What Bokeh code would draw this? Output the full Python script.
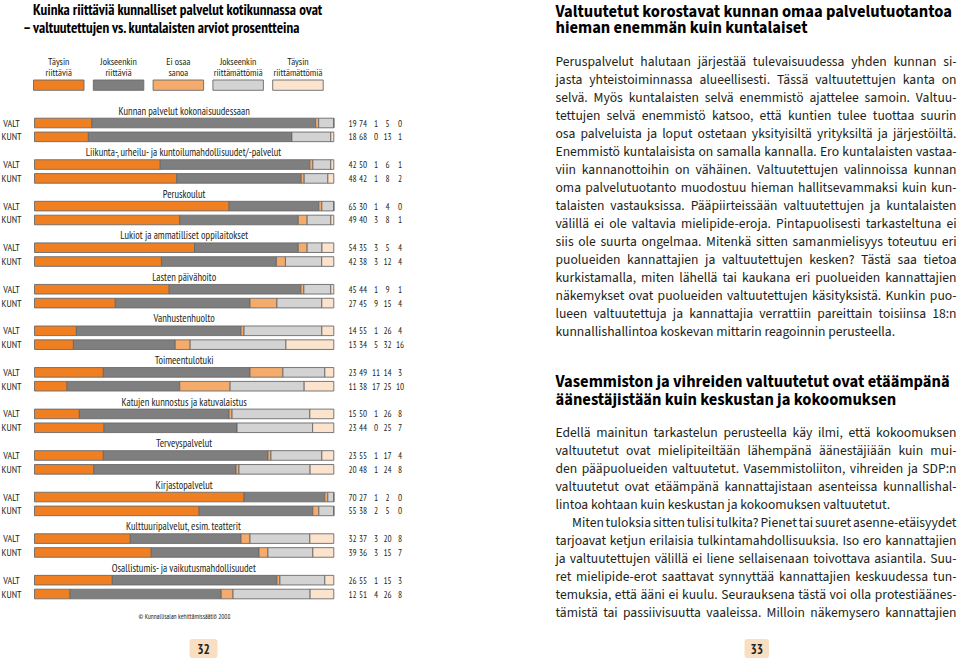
import glob, os, re
from bokeh.plotting import figure
from bokeh.models import Range1d, ColumnDataSource, BoxAnnotation
from bokeh.core.properties import value
from bokeh.embed import file_html
from bokeh.resources import INLINE

# ---------------- data ----------------
categories = [
    "Kunnan palvelut kokonaisuudessaan",
    "Liikunta-, urheilu- ja kuntoilumahdollisuudet/-palvelut",
    "Peruskoulut",
    "Lukiot ja ammatilliset oppilaitokset",
    "Lasten päivähoito",
    "Vanhustenhuolto",
    "Toimeentulotuki",
    "Katujen kunnostus ja katuvalaistus",
    "Terveyspalvelut",
    "Kirjastopalvelut",
    "Kulttuuripalvelut, esim. teatterit",
    "Osallistumis- ja vaikutusmahdollisuudet",
]
answers = [
    ["Täysin", "riittäviä"],
    ["Jokseenkin", "riittäviä"],
    ["Ei osaa", "sanoa"],
    ["Jokseenkin", "riittämättömiä"],
    ["Täysin", "riittämättömiä"],
]
groups = ["VALT", "KUNT"]

valt_full = [19, 42, 65, 54, 45, 14, 23, 15, 23, 70, 32, 26]
valt_some = [74, 50, 30, 35, 44, 55, 49, 50, 55, 27, 37, 55]
valt_dk = [1, 1, 1, 3, 1, 1, 11, 1, 1, 1, 3, 1]
valt_some_insuf = [5, 6, 4, 5, 9, 26, 14, 26, 17, 2, 20, 15]
valt_insuf = [0, 1, 0, 4, 1, 4, 3, 8, 4, 0, 8, 3]

kunt_full = [18, 48, 49, 42, 27, 13, 11, 23, 20, 55, 39, 12]
kunt_some = [68, 42, 40, 38, 45, 34, 38, 44, 48, 38, 36, 51]
kunt_dk = [0, 1, 3, 3, 9, 5, 17, 0, 1, 2, 3, 4]
kunt_some_insuf = [13, 8, 8, 12, 15, 32, 25, 25, 24, 5, 15, 26]
kunt_insuf = [1, 2, 1, 4, 4, 16, 10, 7, 8, 0, 7, 8]

title_left = ["Kuinka riittäviä kunnalliset palvelut kotikunnassa ovat",
              "– valtuutettujen vs. kuntalaisten arviot prosentteina"]
source_note = "© Kunnallisalan kehittämissäätiö 2008"

heading1 = ["Valtuutetut korostavat kunnan omaa palvelutuotantoa",
            "hieman enemmän kuin kuntalaiset"]
para1 = [
    "Peruspalvelut halutaan järjestää tulevaisuudessa yhden kunnan si-",
    "jasta yhteistoiminnassa alueellisesti. Tässä valtuutettujen kanta on",
    "selvä. Myös kuntalaisten selvä enemmistö ajattelee samoin. Valtuu-",
    "tettujen selvä enemmistö katsoo, että kuntien tulee tuottaa suurin",
    "osa palveluista ja loput ostetaan yksityisiltä yrityksiltä ja järjestöiltä.",
    "Enemmistö kuntalaisista on samalla kannalla. Ero kuntalaisten vastaa-",
    "viin kannanottoihin on vähäinen. Valtuutettujen valinnoissa kunnan",
    "oma palvelutuotanto muodostuu hieman hallitsevammaksi kuin kun-",
    "talaisten vastauksissa. Pääpiirteissään valtuutettujen ja kuntalaisten",
    "välillä ei ole valtavia mielipide-eroja. Pintapuolisesti tarkasteltuna ei",
    "siis ole suurta ongelmaa. Mitenkä sitten samanmielisyys toteutuu eri",
    "puolueiden kannattajien ja valtuutettujen kesken? Tästä saa tietoa",
    "kurkistamalla, miten lähellä tai kaukana eri puolueiden kannattajien",
    "näkemykset ovat puolueiden valtuutettujen käsityksistä. Kunkin puo-",
    "lueen valtuutettuja ja kannattajia verrattiin pareittain toisiinsa 18:n",
    "kunnallishallintoa koskevan mittarin reagoinnin perusteella.",
]
heading2 = ["Vasemmiston ja vihreiden valtuutetut ovat etäämpänä",
            "äänestäjistään kuin keskustan ja kokoomuksen"]
para2 = [
    "Edellä mainitun tarkastelun perusteella käy ilmi, että kokoomuksen",
    "valtuutetut ovat mielipiteiltään lähempänä äänestäjiään kuin mui-",
    "den pääpuolueiden valtuutetut. Vasemmistoliiton, vihreiden ja SDP:n",
    "valtuutetut ovat etäämpänä kannattajistaan asenteissa kunnallishal-",
    "lintoa kohtaan kuin keskustan ja kokoomuksen valtuutetut.",
]
para3 = [
    "Miten tuloksia sitten tulisi tulkita? Pienet tai suuret asenne-etäisyydet",
    "tarjoavat ketjun erilaisia tulkintamahdollisuuksia. Iso ero kannattajien",
    "ja valtuutettujen välillä ei liene sellaisenaan toivottava asiantila. Suu-",
    "ret mielipide-erot saattavat synnyttää kannattajien keskuudessa tun-",
    "temuksia, että ääni ei kuulu. Seurauksena tästä voi olla protestiäänes-",
    "tämistä tai passiivisuutta vaaleissa. Milloin näkemysero kannattajien",
]
page_numbers = ["32", "33"]

# ---------------- styling ----------------
COLORS = ["#F07F22", "#7F7F7F", "#F5AB6B", "#D3D3D3", "#FCE3CD"]
EDGE = "#6A6A6A"
INK = "#231F20"

W_PAGE, H_PAGE = 960.0, 664.0
FIG_W, FIG_H = 960, 664


def fs(px):
    return value(f"{px:.2f}px")


FONT_DIRS = ["/usr/share/fonts", "/usr/local/share/fonts", os.path.expanduser("~/.fonts"),
             os.path.expanduser("~/.local/share/fonts")]
ALL_FONTS = []
for _b in FONT_DIRS:
    ALL_FONTS += glob.glob(f"{_b}/**/*.[ot]tf", recursive=True)


def find_font(patterns):
    for pat in patterns:
        rx = re.compile(pat, re.I)
        for f in ALL_FONTS:
            if rx.fullmatch(os.path.basename(f)):
                return f
    return None


try:
    from PIL import ImageFont
except Exception:
    ImageFont = None


def load(path, weight):
    """Load a font file for width measurement; variable fonts are set to the weight."""
    if ImageFont is None or path is None:
        return None
    try:
        f = ImageFont.truetype(path, 100)
    except Exception:
        return None
    if "[" in os.path.basename(path):
        try:
            axes = f.get_variation_axes()
            vals = []
            for ax in axes:
                nm = ax.get("name", b"")
                nm = nm.decode() if isinstance(nm, bytes) else str(nm)
                if nm.lower().startswith("weight") or nm.lower() == "wght":
                    vals.append(weight)
                else:
                    vals.append(ax.get("default", ax.get("minimum")))
            f.set_variation_by_axes(vals)
        except Exception:
            return None
    return f


def pick(cands):
    for name, reg, bold in cands:
        fr = find_font(reg)
        if not fr:
            continue
        fb = find_font(bold) or fr
        a, b = load(fr, 400), load(fb, 700)
        if a is not None and b is not None:
            return name, a, b
    return None, None, None


# narrow font for the chart page (closest available to a condensed humanist sans)
COND_NAME, F_COND, F_COND_B = pick([
    ("PT Sans Narrow", [r"PTSansNarrow-Regular\.ttf", r"PT_Sans-Narrow-Web-Regular\.ttf", r"PTN57F\.ttf"],
     [r"PTSansNarrow-Bold\.ttf", r"PT_Sans-Narrow-Web-Bold\.ttf", r"PTN77F\.ttf"]),
    ("Fira Sans Condensed", [r"FiraSansCondensed-Regular\.[ot]tf"], [r"FiraSansCondensed-Bold\.[ot]tf"]),
    ("Asap Condensed", [r"AsapCondensed-Regular\.ttf"], [r"AsapCondensed-Bold\.ttf"]),
    ("Liberation Sans Narrow", [r"LiberationSansNarrow-Regular\.ttf"], [r"LiberationSansNarrow-Bold\.ttf"]),
])
COND = (f"'{COND_NAME}', " if COND_NAME else "") + "'Liberation Sans Narrow', 'DejaVu Sans Condensed', sans-serif"

# body font for the text page (closest available to a humanist book sans)
BODY_NAME, F_BODY, F_BODY_B = pick([
    ("Source Sans 3", [r"SourceSans3-Regular\.[ot]tf", r"SourceSans3\[wght\]\.[ot]tf"],
     [r"SourceSans3-Bold\.[ot]tf", r"SourceSans3\[wght\]\.[ot]tf"]),
    ("Source Sans Pro", [r"SourceSansPro-Regular\.[ot]tf"], [r"SourceSansPro-Bold\.[ot]tf"]),
    ("Lato", [r"Lato-Regular\.ttf"], [r"Lato-Bold\.ttf"]),
])
BODY = (f"'{BODY_NAME}', " if BODY_NAME else "") + "Lato, sans-serif"


def fit(font, text, width, fallback):
    if font is None:
        return fallback
    return width * 100.0 / font.getlength(text)


p = figure(width=FIG_W, height=FIG_H, x_range=Range1d(0, W_PAGE), y_range=Range1d(H_PAGE, 0),
           output_backend="svg", toolbar_location=None, min_border=0,
           x_axis_type=None, y_axis_type=None, outline_line_color=None,
           background_fill_color="white", border_fill_color="white")
p.grid.visible = False

# bar area geometry (page pixels)
BAR_L, BAR_R = 34.0, 333.3
PPU = (BAR_R - BAR_L) / 100.0
ROW0 = 122.5
ROWU = 41.56 / 3.0
p.extra_x_ranges = {"pct": Range1d(-BAR_L / PPU, (W_PAGE - BAR_L) / PPU)}
p.extra_y_ranges = {"row": Range1d((H_PAGE - ROW0) / ROWU, (0 - ROW0) / ROWU)}

# ---------------- bars ----------------
series_valt = [valt_full, valt_some, valt_dk, valt_some_insuf, valt_insuf]
series_kunt = [kunt_full, kunt_some, kunt_dk, kunt_some_insuf, kunt_insuf]
rows, who = [], []
raw = [[] for _ in range(5)]
for g in range(len(categories)):
    for k, ser in enumerate([series_valt, series_kunt]):
        rows.append(3 * g + k)
        who.append(groups[k])
        for j in range(5):
            raw[j].append(ser[j][g])
data = {"row": rows, "who": who}
tot = [sum(raw[m][i] for m in range(5)) for i in range(len(rows))]
for j in range(5):
    data[f"s{j}"] = [raw[j][i] * 100.0 / tot[i] for i in range(len(rows))]
    data[f"v{j}"] = [str(v) for v in raw[j]]
src = ColumnDataSource(data)

p.hbar_stack([f"s{j}" for j in range(5)], y="row", height=9.6 / ROWU, color=COLORS,
             line_color=EDGE, line_width=0.9, source=src,
             x_range_name="pct", y_range_name="row")

SZ_ROWLAB = min(10.5, fit(F_COND, "VALT", 16.5, 8.2))
SZ_NUM = min(10.5, fit(F_COND, "19", 8.2, 8.5))
SZ_CAT = min(10.5, fit(F_COND, categories[1], 198.0, 8.3))
SZ_LEG = min(10.5, fit(F_COND, "riittämättömiä", 49.0, 8.8))
SZ_TITLE = min(15.0, fit(F_COND_B, title_left[0], 300.5, 11.8))
SZ_NOTE = min(8.0, fit(F_COND, source_note, 92.0, 6.5))
SZ_PAGE = min(14.0, fit(F_COND_B, "32", 12.7, 13.0))

p.text(x=11, y="row", text="who", source=src, y_range_name="row", text_align="center",
       text_baseline="middle", text_font=value(COND), text_font_size=fs(SZ_ROWLAB),
       text_color=INK)
NUM_X = [352.0, 362.5, 375.5, 387.0, 399.5]
for j in range(5):
    p.text(x=NUM_X[j], y="row", text=f"v{j}", source=src, y_range_name="row",
           text_align="center", text_baseline="middle", text_font=value(COND),
           text_font_size=fs(SZ_NUM), text_color=INK)

# category titles
cat_src = ColumnDataSource({"y": [3 * g - 12.4 / ROWU for g in range(len(categories))],
                            "t": categories})
p.text(x=(BAR_L + BAR_R) / 2, y="y", text="t", source=cat_src, y_range_name="row",
       text_align="center", text_baseline="middle", text_font=value(COND),
       text_font_size=fs(SZ_CAT), text_color=INK)

# ---------------- legend ----------------
LEG_X0, LEG_PITCH, LEG_W = 33.0, 59.8, 50.5
for j in range(5):
    x0 = LEG_X0 + j * LEG_PITCH
    p.quad(left=x0, right=x0 + LEG_W, top=79.5, bottom=89.8, fill_color=COLORS[j],
           line_color=EDGE, line_width=0.9)
    for li, t in enumerate(answers[j]):
        p.text(x=x0 + LEG_W / 2, y=61 + li * 11.3, text=[t], text_align="center",
               text_baseline="middle", text_font=value(COND), text_font_size=fs(SZ_LEG),
               text_color=INK)

# ---------------- left title & note ----------------
p.text(x=32.5, y=8.5, text=[title_left[0]], text_align="left", text_baseline="middle",
       text_font=value(COND), text_font_style="bold", text_font_size=fs(SZ_TITLE),
       text_color="black")
p.text(x=22.5, y=26.5, text=[title_left[1]], text_align="left", text_baseline="middle",
       text_font=value(COND), text_font_style="bold", text_font_size=fs(SZ_TITLE),
       text_color="black")
p.text(x=184, y=615.5, text=[source_note], text_align="center", text_baseline="middle",
       text_font=value(COND), text_font_size=fs(SZ_NOTE), text_color=INK)

# ---------------- right page text ----------------
TX_L, TX_R = 555.0, 956.0

BODY_SIZE = 13.6
if F_BODY is not None:
    for ln in para1 + para2 + para3:
        w = F_BODY.getlength(ln) * BODY_SIZE / 100.0
        if w > (TX_R - TX_L) - 4:
            BODY_SIZE = min(BODY_SIZE, BODY_SIZE * ((TX_R - TX_L) - 4) / w)

wx, wy, wt = [], [], []


def place_line(t, x0, y, justify):
    if F_BODY is None or not justify:
        wx.append(x0); wy.append(y); wt.append(t)
        return
    words = t.split(" ")
    widths = [F_BODY.getlength(w_) * BODY_SIZE / 100.0 for w_ in words]
    gap = (TX_R - x0 - sum(widths)) / max(1, len(words) - 1)
    x = x0
    for w_, ww in zip(words, widths):
        wx.append(x); wy.append(y); wt.append(w_)
        x += ww + gap


LH = 18.02
for i, ln in enumerate(para1):
    place_line(ln, TX_L, 60.7 + i * LH, i < len(para1) - 1)
y2 = 432.3
for i, ln in enumerate(para2):
    place_line(ln, TX_L, y2 + i * 17.94, i < len(para2) - 1)
for i, ln in enumerate(para3):
    place_line(ln, TX_L + (16.5 if i == 0 else 0), y2 + (len(para2) + i) * 17.94, True)

body_src = ColumnDataSource({"x": wx, "y": wy, "t": wt})
p.text(x="x", y="y", text="t", source=body_src, text_align="left", text_baseline="middle",
       text_font=value(BODY), text_font_size=fs(BODY_SIZE), text_color=INK)

SZ_HEAD = min(16.5, fit(F_BODY_B, heading1[0], 400.0, 15.0))
for i, t in enumerate(heading1):
    p.text(x=TX_L, y=11.7 + i * 15.4, text=[t], text_align="left", text_baseline="middle",
           text_font=value(BODY), text_font_style="bold", text_font_size=fs(SZ_HEAD),
           text_color="black")
for i, t in enumerate(heading2):
    p.text(x=TX_L, y=381.7 + i * 17.3, text=[t], text_align="left", text_baseline="middle",
           text_font=value(BODY), text_font_style="bold", text_font_size=fs(SZ_HEAD),
           text_color="black")

# ---------------- page numbers ----------------
for num, (l, r) in zip(page_numbers, [(189.0, 217.0), (744.0, 768.5)]):
    p.add_layout(BoxAnnotation(left=l, right=r, top=638.5, bottom=657.5,
                               fill_color="#F8DFC2", fill_alpha=1.0, line_color=None,
                               border_radius=3, level="underlay"))
    p.text(x=(l + r) / 2, y=648, text=[num], text_align="center", text_baseline="middle",
           text_font=value(COND), text_font_style="bold", text_font_size=fs(SZ_PAGE),
           text_color=INK)

open("out.html", "w").write(file_html(p, INLINE))
